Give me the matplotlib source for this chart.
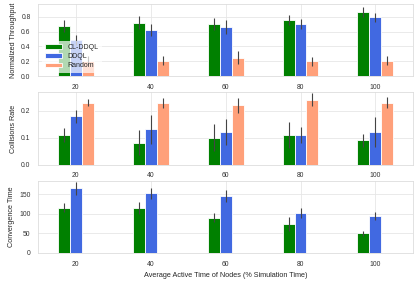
import numpy as np
import matplotlib.pyplot as plt
import seaborn as sns

sns.set_style("whitegrid")
plt.rcParams['font.family'] = ['Liberation Sans', 'DejaVu Sans']

times = ["20", "40", "60", "80", "100"]
methods = ["CL-DDQL", "DDQL", "Random"]
colors = ["green", "royalblue", "lightsalmon"]

# throughput
thr = [[0.68, 0.72, 0.70, 0.75, 0.86],
       [0.49, 0.62, 0.66, 0.70, 0.79],
       [0.21, 0.21, 0.25, 0.20, 0.21]]
thr_err = [[0.08, 0.085, 0.08, 0.065, 0.07],
           [0.07, 0.085, 0.095, 0.07, 0.06],
           [0.06, 0.065, 0.085, 0.06, 0.06]]

# collisions
col = [[0.110, 0.081, 0.100, 0.110, 0.090],
       [0.181, 0.131, 0.122, 0.110, 0.122],
       [0.231, 0.231, 0.222, 0.242, 0.231]]
col_err = [[0.027, 0.047, 0.05, 0.048, 0.025],
           [0.024, 0.054, 0.049, 0.03, 0.055],
           [0.013, 0.019, 0.028, 0.024, 0.02]]

# convergence (no random)
conv = [[116, 114, 90, 74, 50],
        [165, 152, 146, 101, 95]]
conv_err = [[11, 15, 12, 17, 6.5],
            [17, 13, 16, 13, 10]]

x = np.arange(len(times))
w = 0.16

fig, axs = plt.subplots(3, 1, figsize=(4.15, 2.81), dpi=100)
plt.subplots_adjust(left=0.092, right=0.995, top=0.986, bottom=0.1, hspace=0.22)

panels = [(thr, thr_err, "Normalized Throughput", (0, 0.97)),
          (col, col_err, "Collisions Rate", (0, 0.27)),
          (conv, conv_err, "Convergence Time", (0, 185))]

for ax, (vals, errs, lab, yl) in zip(axs, panels):
    for i in range(len(vals)):
        ax.bar(x + (i - 1) * w, vals[i], w, yerr=errs[i], color=colors[i],
               label=methods[i], edgecolor="white", linewidth=0.6,
               error_kw=dict(ecolor="#444444", elinewidth=0.8, capsize=0))
    ax.set_xticks(x)
    ax.set_xticklabels(times)
    ax.set_xlim(-0.5, 4.5)
    ax.set_ylim(*yl)
    ax.set_ylabel(lab, fontsize=5.2, labelpad=3)
    ax.tick_params(labelsize=4.9, pad=2, colors="#333333")
    for s in ax.spines.values():
        s.set_color("#dddddd")
        s.set_linewidth(0.6)
    ax.grid(color="#e6e6e6", linewidth=0.6)

leg = axs[0].legend(loc="lower left", fontsize=5, framealpha=0.7, borderpad=0.5,
                    handlelength=2.4, labelspacing=0.3, edgecolor="none",
                    bbox_to_anchor=(0.0, 0.0))
axs[2].set_xlabel("Average Active Time of Nodes (% Simulation Time)", fontsize=5.2, labelpad=3)

plt.savefig("out.png", dpi=100)
